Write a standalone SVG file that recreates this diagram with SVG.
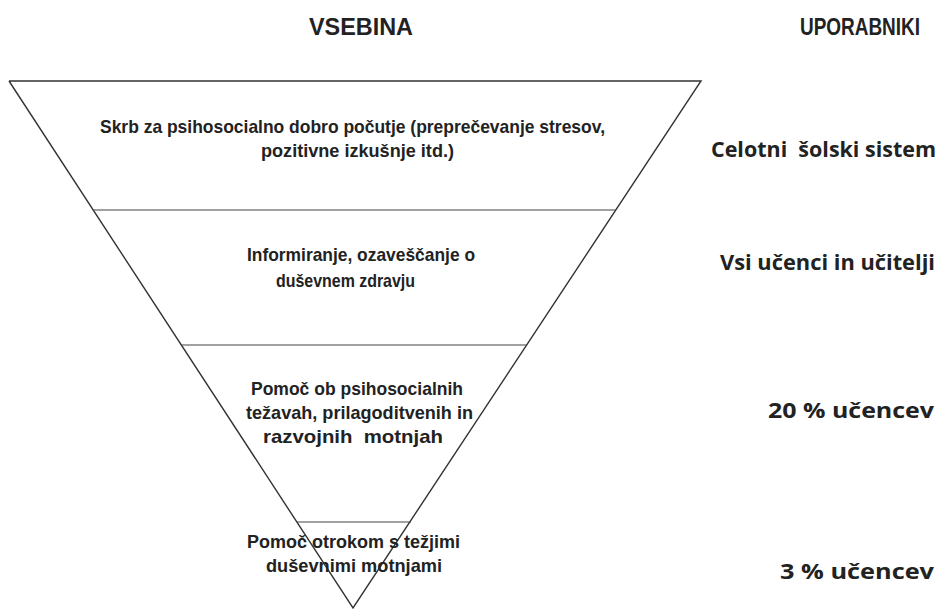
<svg xmlns="http://www.w3.org/2000/svg" width="940" height="610" viewBox="0 0 940 610">
<style>
text{white-space:pre}
.edge{stroke:#333;stroke-width:1.4;fill:none}
.sep{stroke:#444;stroke-width:1.2;fill:none}
.h{font-family:"Liberation Sans",Arial,sans-serif;font-weight:bold;font-size:24px;fill:#222}
.t{font-family:"Liberation Sans",Arial,sans-serif;font-weight:bold;font-size:19px;fill:#222}
.u{font-family:"Open Sans","Liberation Sans",sans-serif;font-weight:bold;font-size:22px;fill:#222}
</style>
<rect width="940" height="610" fill="#fff"/>
<g id="headers">
<text class="h" x="309" y="35" textLength="104" lengthAdjust="spacingAndGlyphs">VSEBINA</text>
<text class="h" transform="translate(800,35) scale(0.79,1)" x="0" y="0">UPORABNIKI</text>
</g>
<g id="connectors">
<polyline class="edge" points="9,81 701,81 353,608 9,81"/>
<line class="sep" x1="93" y1="210" x2="616" y2="210"/>
<line class="sep" x1="181" y1="345" x2="527" y2="345"/>
<line class="sep" x1="297" y1="522" x2="411" y2="522"/>
</g>
<g id="level1">
<text class="t" x="100" y="133" textLength="505" lengthAdjust="spacingAndGlyphs">Skrb za psihosocialno dobro počutje (preprečevanje stresov,</text>
<text class="t" x="261" y="157" textLength="193" lengthAdjust="spacingAndGlyphs">pozitivne izkušnje itd.)</text>
</g>
<g id="level2">
<text class="t" x="247" y="261" textLength="228" lengthAdjust="spacingAndGlyphs">Informiranje, ozaveščanje o</text>
<text class="t" x="276" y="287" textLength="139" lengthAdjust="spacingAndGlyphs">duševnem zdravju</text>
</g>
<g id="level3">
<text class="t" x="251" y="395" textLength="212" lengthAdjust="spacingAndGlyphs">Pomoč ob psihosocialnih</text>
<text class="t" x="246" y="419" textLength="227" lengthAdjust="spacingAndGlyphs">težavah, prilagoditvenih in</text>
<text class="t" x="263" y="443" textLength="180" lengthAdjust="spacingAndGlyphs">razvojnih  motnjah</text>
</g>
<g id="level4">
<text class="t" x="247" y="548" textLength="213" lengthAdjust="spacingAndGlyphs">Pomoč otrokom s težjimi</text>
<text class="t" x="266" y="572" textLength="176" lengthAdjust="spacingAndGlyphs">duševnimi motnjami</text>
</g>
<g id="users">
<text class="u" x="711" y="157" textLength="225" lengthAdjust="spacingAndGlyphs">Celotni  šolski sistem</text>
<text class="u" x="720" y="270" textLength="215" lengthAdjust="spacingAndGlyphs">Vsi učenci in učitelji</text>
<text class="u" x="768" y="418" textLength="166" lengthAdjust="spacingAndGlyphs">20 % učencev</text>
<text class="u" x="780" y="579" textLength="154" lengthAdjust="spacingAndGlyphs">3 % učencev</text>
</g>
</svg>
